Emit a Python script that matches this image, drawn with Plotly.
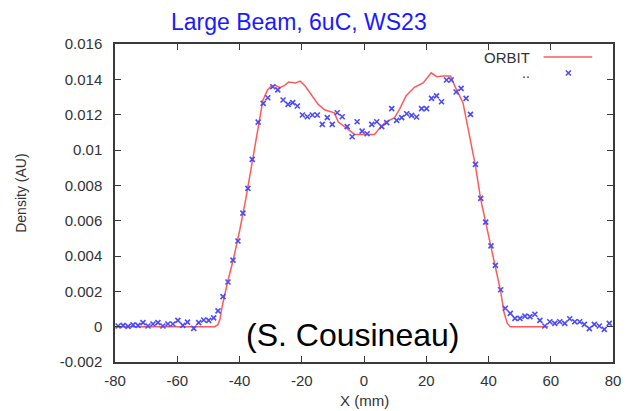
import plotly.graph_objects as go

# ---------------- data ----------------
ws_x = [-79.0, -77.4, -75.8, -74.2, -72.6, -71.0, -69.4, -67.8, -66.2, -64.6,
        -63.0, -61.4, -59.8, -58.2, -56.7, -54.7, -53.1, -51.5, -49.9, -48.3,
        -46.9, -45.3, -43.7, -42.1, -40.5, -38.9, -37.3, -35.9, -34.0, -32.4,
        -30.9, -29.3, -27.7, -26.0, -24.4, -22.9, -21.4, -19.8, -18.2, -16.6,
        -15.0, -13.4, -11.8, -10.2, -8.6, -7.0, -5.4, -3.8, -2.2, -0.6,
        1.0, 2.5, 4.1, 5.7, 7.3, 8.9, 10.5, 12.1, 13.7, 15.3,
        16.9, 18.5, 20.1, 21.7, 23.3, 24.9, 26.5, 28.0, 29.6, 31.2,
        32.8, 34.2, 35.8, 37.5, 39.1, 40.8, 42.2, 43.9, 45.4, 47.0,
        48.5, 50.1, 51.7, 53.3, 54.9, 56.5, 58.1, 59.7, 61.3, 62.9,
        64.5, 66.1, 67.7, 69.3, 70.8, 72.4, 74.0, 75.6, 77.2, 78.8]
ws_y = [0.00004, 0.00007, 0.00002, 0.00010, 0.00007, 0.00023, 0.00004, 0.00015, 0.00023, 0.00004,
        0.00015, 0.00015, 0.00036, 0.00007, 0.00026, -0.00010, 0.00023, 0.00038, 0.00036, 0.00050,
        0.00089, 0.00170, 0.00253, 0.00377, 0.00485, 0.00643, 0.00783, 0.00947, 0.01158, 0.01264,
        0.01296, 0.01358, 0.01340, 0.01283, 0.01258, 0.01268, 0.01249, 0.01198, 0.01188, 0.01198,
        0.01198, 0.01145, 0.01183, 0.01145, 0.01211, 0.01188, 0.01132, 0.01075, 0.01160, 0.01107,
        0.01092, 0.01145, 0.01160, 0.01132, 0.01155, 0.01234, 0.01168, 0.01183, 0.01205, 0.01196,
        0.01187, 0.01234, 0.01234, 0.01292, 0.01306, 0.01273, 0.01396, 0.01396, 0.01328, 0.01349,
        0.01292, 0.01202, 0.00919, 0.00726, 0.00592, 0.00457, 0.00347, 0.00209, 0.00104, 0.00075,
        0.00047, 0.00047, 0.00060, 0.00057, 0.00070, 0.00036, 0.00004, 0.00028, 0.00019, 0.00028,
        0.00019, 0.00045, 0.00028, 0.00028, 0.00013, -0.00011, 0.00013, 0.00004, -0.00015, 0.00019]

orbit_x = [-80, -48, -47, -46.3, -45.5, -44, -42, -40, -38, -36,
           -34, -32.5, -31, -30, -28.5, -27, -25.5, -24.2, -22, -20.5,
           -18.9, -16.8, -14.7, -12.5, -10.5, -9.5, -8.3, -5.6, -3, 0,
           3.4, 5.2, 7, 9.8, 11.4, 13.5, 16.2, 19.0, 21.6, 23.4,
           25.5, 27.8, 29.4, 31.8, 33.2, 34.5, 35.8, 37.5, 39.1, 40.8,
           42.2, 43.9, 45.0, 46.0, 47.0, 59.2]
orbit_y = [0, 0, 0.0001, 0.0004, 0.0012, 0.0024, 0.0038, 0.0054, 0.0072, 0.0092,
           0.0114, 0.0128, 0.0134, 0.01358, 0.01366, 0.01353, 0.01366, 0.01385, 0.01380, 0.01390,
           0.01362, 0.01312, 0.01258, 0.01226, 0.01218, 0.01210, 0.01160, 0.01126, 0.01088, 0.01088,
           0.01088, 0.01128, 0.01158, 0.01183, 0.01230, 0.01306, 0.01355, 0.01380, 0.01437, 0.01415,
           0.01419, 0.01419, 0.01353, 0.01268, 0.01140, 0.01030, 0.00910, 0.00720, 0.00590, 0.00460,
           0.00340, 0.00200, 0.00080, 0.00020, 0.0, 0.0]

x_ticks = [-80, -60, -40, -20, 0, 20, 40, 60, 80]
x_ticklabels = ["-80", "-60", "-40", "-20", "0", "20", "40", "60", "80"]
y_ticks = [-0.002, 0, 0.002, 0.004, 0.006, 0.008, 0.01, 0.012, 0.014, 0.016]
y_ticklabels = ["-0.002", "0", "0.002", "0.004", "0.006", "0.008", "0.01", "0.012", "0.014", "0.016"]

FONT = "Liberation Sans, Arial, Helvetica, sans-serif"
RED = "#ff5a5a"
BLUE = "#4a4aff"
AXC = "#3a3a3a"

fig = go.Figure()
fig.add_trace(go.Scatter(x=orbit_x, y=orbit_y, mode="lines", name="ORBIT",
                         line=dict(color=RED, width=1.5)))
fig.add_trace(go.Scatter(x=ws_x, y=ws_y, mode="markers", name="..",
                         marker=dict(symbol="x-thin", size=5, color=BLUE,
                                     line=dict(color=BLUE, width=1.6))))
# legend sample marker on an overlay axis in paper-like units
fig.add_trace(go.Scatter(x=[0.9104], y=[0.9088], mode="markers", xaxis="x2", yaxis="y2",
                         marker=dict(symbol="x-thin", size=5, color=BLUE,
                                     line=dict(color=BLUE, width=1.6)),
                         hoverinfo="skip"))

axis_common = dict(showgrid=False, zeroline=False, showline=True, linecolor=AXC, linewidth=1.5,
                   mirror="ticks", ticks="inside", ticklen=6, tickcolor=AXC, tickwidth=1,
                   tickfont=dict(family=FONT, size=15, color="#333333"))

fig.update_layout(
    width=633, height=411,
    margin=dict(l=115, r=16, t=44, b=49),
    paper_bgcolor="white", plot_bgcolor="white",
    showlegend=False,
    xaxis=dict(range=[-80, 80], tickvals=x_ticks, ticktext=x_ticklabels,
               ticklabelstandoff=4, **axis_common),
    yaxis=dict(range=[-0.002, 0.016], tickvals=y_ticks, ticktext=y_ticklabels,
               ticklabelstandoff=8, **axis_common),
    xaxis2=dict(domain=[0, 1], range=[0, 1], overlaying="x", visible=False, anchor="y2"),
    yaxis2=dict(domain=[0, 1], range=[0, 1], overlaying="y", visible=False, anchor="x2"),
    shapes=[dict(type="line", xref="paper", yref="paper", x0=0.8606, x1=0.9582,
                 y0=0.959, y1=0.959, line=dict(color=RED, width=1.5))],
    annotations=[
        dict(text="Large Beam, 6uC, WS23", xref="paper", yref="paper", x=0.3685, y=1.069,
             xanchor="center", yanchor="middle", showarrow=False,
             font=dict(family=FONT, size=23, color="#1a1aff")),
        dict(text="Density (AU)", xref="paper", yref="paper", x=-0.1892, y=0.5314,
             textangle=-90, xanchor="center", yanchor="middle", showarrow=False,
             font=dict(family=FONT, size=14, color="#333333")),
        dict(text="X (mm)", xref="paper", yref="paper", x=0.5, y=-0.1195,
             xanchor="center", yanchor="middle", showarrow=False,
             font=dict(family=FONT, size=15, color="#333333")),
        dict(text="(S. Cousineau)", xref="paper", yref="paper", x=0.4775, y=0.0849,
             xanchor="center", yanchor="middle", showarrow=False,
             font=dict(family=FONT, size=32, color="black")),
        dict(text="ORBIT", xref="paper", yref="paper", x=0.8367, y=0.959,
             xanchor="right", yanchor="middle", showarrow=False,
             font=dict(family=FONT, size=15, color="#333333")),
        dict(text="..", xref="paper", yref="paper", x=0.8367, y=0.9088,
             xanchor="right", yanchor="middle", showarrow=False,
             font=dict(family=FONT, size=14, color="#333333")),
    ],
)

fig.write_html("out.html")
